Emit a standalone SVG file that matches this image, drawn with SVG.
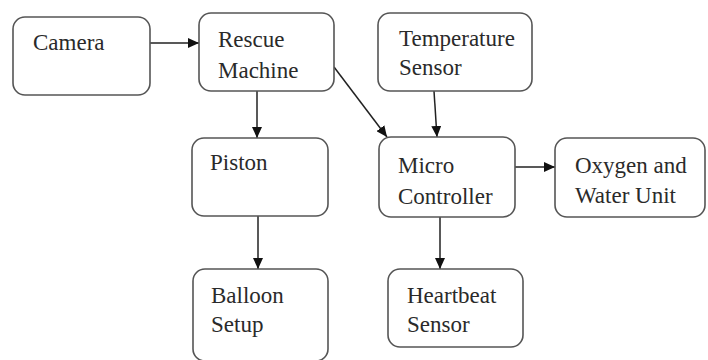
<svg xmlns="http://www.w3.org/2000/svg" width="708" height="360" viewBox="0 0 708 360">
<defs>
<style>
.box{fill:#fff;stroke:#555;stroke-width:1.6}
.t{font-family:"Liberation Serif","Times New Roman",serif;font-size:23px;fill:#2a2a2a}
.c{stroke:#222;stroke-width:1.5;fill:none}
</style>
<marker id="ah" markerWidth="12" markerHeight="10" refX="11" refY="5" orient="auto" markerUnits="userSpaceOnUse">
<path d="M0,0 L11,5 L0,10 Z" fill="#111"/>
</marker>
</defs>
<rect width="708" height="360" fill="#fff"/>
<g id="connectors">
<line class="c" x1="150" y1="43" x2="199" y2="43" marker-end="url(#ah)"/>
<line class="c" x1="257" y1="91" x2="257" y2="138" marker-end="url(#ah)"/>
<line class="c" x1="334" y1="67" x2="387" y2="137" marker-end="url(#ah)"/>
<line class="c" x1="434" y1="91" x2="437" y2="137" marker-end="url(#ah)"/>
<line class="c" x1="515" y1="167" x2="555" y2="167" marker-end="url(#ah)"/>
<line class="c" x1="258" y1="216" x2="258" y2="269" marker-end="url(#ah)"/>
<line class="c" x1="440" y1="217" x2="440" y2="269" marker-end="url(#ah)"/>
</g>
<g id="camera">
<rect class="box" x="13" y="17" width="137" height="78" rx="12"/>
<text class="t" x="33" y="50">Camera</text>
</g>
<g id="rescue-machine">
<rect class="box" x="199" y="13" width="135" height="78" rx="12"/>
<text class="t" x="218" y="47">Rescue</text>
<text class="t" x="218" y="78">Machine</text>
</g>
<g id="temperature-sensor">
<rect class="box" x="378" y="13" width="154" height="78" rx="12"/>
<text class="t" x="399" y="46">Temperature</text>
<text class="t" x="399" y="75">Sensor</text>
</g>
<g id="piston">
<rect class="box" x="192" y="138" width="136" height="78" rx="12"/>
<text class="t" x="210" y="170">Piston</text>
</g>
<g id="micro-controller">
<rect class="box" x="379" y="137" width="136" height="80" rx="12"/>
<text class="t" x="398" y="173">Micro</text>
<text class="t" x="398" y="204">Controller</text>
</g>
<g id="oxygen-water-unit">
<rect class="box" x="555" y="138" width="150" height="79" rx="12"/>
<text class="t" x="575" y="173">Oxygen and</text>
<text class="t" x="575" y="203">Water Unit</text>
</g>
<g id="balloon-setup">
<rect class="box" x="193" y="269" width="135" height="92" rx="12"/>
<text class="t" x="211" y="303">Balloon</text>
<text class="t" x="211" y="332">Setup</text>
</g>
<g id="heartbeat-sensor">
<rect class="box" x="388" y="269" width="135" height="78" rx="12"/>
<text class="t" x="407" y="303">Heartbeat</text>
<text class="t" x="407" y="332">Sensor</text>
</g>
</svg>
